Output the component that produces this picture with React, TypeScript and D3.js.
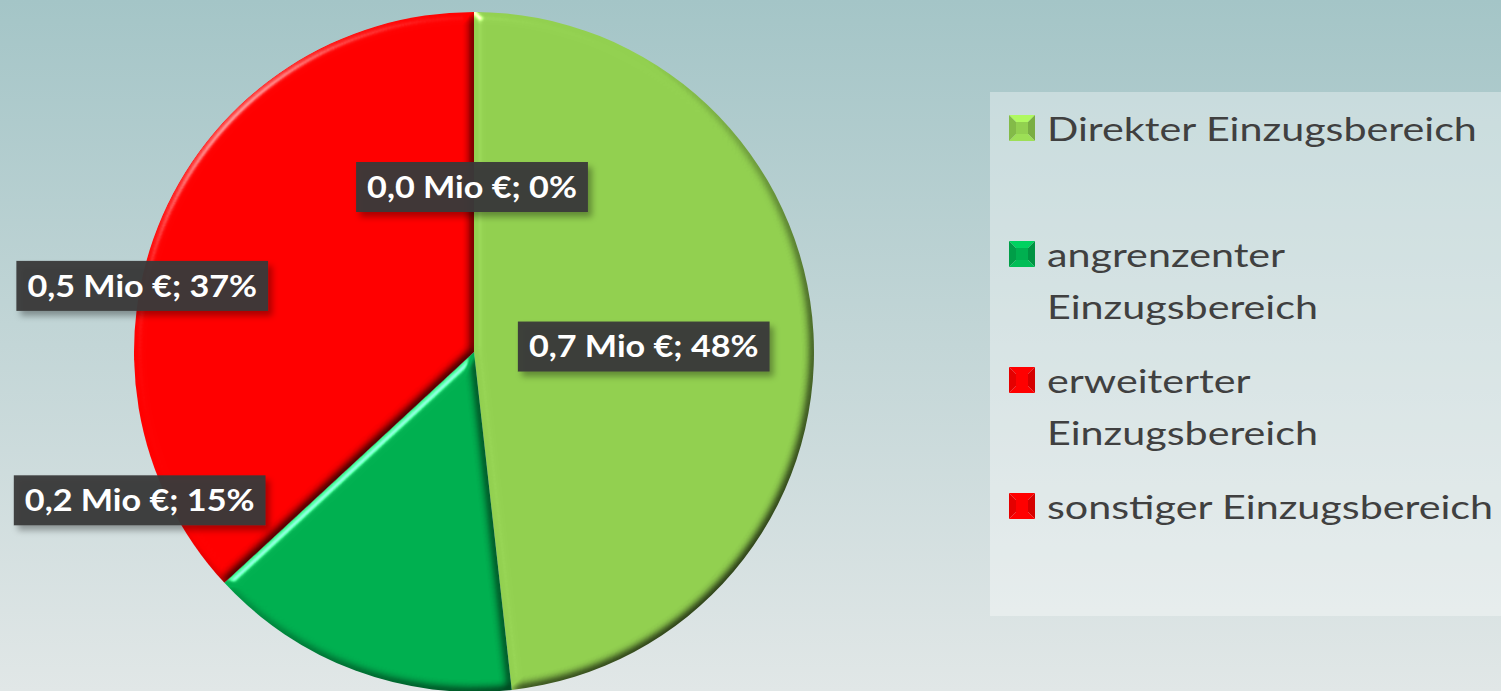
import React, { useEffect, useRef } from 'react';
import * as d3 from 'd3';

const categories = ['Direkter Einzugsbereich', 'angrenzenter Einzugsbereich', 'erweiterter Einzugsbereich', 'sonstiger Einzugsbereich'];
const legendLines = [['Direkter Einzugsbereich'], ['angrenzenter', 'Einzugsbereich'], ['erweiterter', 'Einzugsbereich'], ['sonstiger Einzugsbereich']];
const values = [0.68, 0.21, 0.52, 0.0];
const colors = ['#92d050', '#00b050', '#ff0000', '#ff0000'];

const W = 1501;
const H = 691;

const App = () => {
  const svgRef = useRef(null);

  useEffect(() => {
    document.body.style.margin = '0';
    const svg = d3.select(svgRef.current).attr('width', W).attr('height', H);
    svg.selectAll('*').remove();

    const defs = svg.append('defs');
    const bg = defs.append('linearGradient').attr('id', 'bg').attr('x1', 0).attr('y1', 0).attr('x2', 0).attr('y2', 1);
    bg.append('stop').attr('offset', 0).attr('stop-color', '#a4c5c7');
    bg.append('stop').attr('offset', 0.5).attr('stop-color', '#c3d6d7');
    bg.append('stop').attr('offset', 1).attr('stop-color', '#e1e7e7');

    // bevel for the slices
    const f = defs.append('filter').attr('id', 'bevel').attr('color-interpolation-filters', 'sRGB')
      .attr('x', '-10%').attr('y', '-10%').attr('width', '120%').attr('height', '120%');
    f.append('feGaussianBlur').attr('in', 'SourceAlpha').attr('stdDeviation', 5).attr('result', 'blur');
    const dl = f.append('feDiffuseLighting').attr('in', 'blur').attr('surfaceScale', 3.5)
      .attr('diffuseConstant', 1.414).attr('lighting-color', '#fff').attr('result', 'diff');
    dl.append('feDistantLight').attr('azimuth', 225).attr('elevation', 45);
    const sl = f.append('feSpecularLighting').attr('in', 'blur').attr('surfaceScale', 4)
      .attr('specularConstant', 0.7).attr('specularExponent', 60).attr('lighting-color', '#fff').attr('result', 'spec');
    sl.append('feDistantLight').attr('azimuth', 225).attr('elevation', 40);
    f.append('feComposite').attr('in', 'spec').attr('in2', 'SourceAlpha').attr('operator', 'in').attr('result', 'specOut');
    f.append('feComposite').attr('in', 'SourceGraphic').attr('in2', 'diff').attr('operator', 'arithmetic')
      .attr('k1', 1).attr('k2', 0).attr('k3', 0).attr('k4', 0).attr('result', 'shaded');
    f.append('feComposite').attr('in', 'shaded').attr('in2', 'specOut').attr('operator', 'arithmetic')
      .attr('k1', 0).attr('k2', 1).attr('k3', 0.8).attr('k4', 0);

    const shadow = defs.append('filter').attr('id', 'shadow').attr('x', '-10%').attr('y', '-20%').attr('width', '130%').attr('height', '160%');
    shadow.append('feDropShadow').attr('dx', 4).attr('dy', 5).attr('stdDeviation', 3)
      .attr('flood-color', '#000').attr('flood-opacity', 0.35);

    svg.append('rect').attr('width', W).attr('height', H).attr('fill', 'url(#bg)');

    // pie
    const cx = 474;
    const cy = 352;
    const r = 340;
    const pie = d3.pie().sort(null).value((d) => d);
    const arcs = pie(values);
    const arc = d3.arc().innerRadius(0).outerRadius(r);
    const g = svg.append('g').attr('transform', `translate(${cx},${cy})`);

    g.selectAll('path.slice')
      .data(arcs)
      .enter()
      .append('path')
      .attr('class', 'slice')
      .attr('d', arc)
      .attr('fill', (d, i) => colors[i])
      .attr('filter', 'url(#bevel)');

    // data labels
    const labelNudge = [[0, 4], [-275, -11], [-176, 2], [-2, 5]];
    const fmt = (v) => v.toFixed(1).replace('.', ',');
    const total = d3.sum(values);
    const sx = 1.14;
    arcs.forEach((a, i) => {
      const [x, y] = arc.centroid(a);
      const lx = x + labelNudge[i][0];
      const ly = y + labelNudge[i][1];
      const text = `${fmt(values[i])} Mio €; ${Math.round((values[i] / total) * 100)}%`;
      const lg = g.append('g').attr('transform', `translate(${lx},${ly})`);
      const rect = lg.append('rect').attr('fill', '#3a3a3a').attr('fill-opacity', 0.95).attr('filter', 'url(#shadow)');
      const t = lg.append('text')
        .attr('text-anchor', 'middle')
        .attr('dy', '0.36em')
        .attr('transform', `scale(${sx},1)`)
        .attr('fill', '#fff')
        .style('font-family', 'Lato, sans-serif')
        .style('font-weight', 'bold')
        .style('font-size', '30px')
        .text(text);
      const tw = t.node().getComputedTextLength() * sx;
      rect.attr('x', -tw / 2 - 11).attr('y', -25).attr('width', tw + 22).attr('height', 50);
    });

    // legend
    const lgX = 990;
    const lgY = 92;
    svg.append('rect').attr('x', lgX).attr('y', lgY).attr('width', W - lgX).attr('height', 524)
      .attr('fill', '#fff').attr('fill-opacity', 0.35);
    const itemY = d3.scaleLinear().domain([0, categories.length - 1]).range([141, 519]);
    categories.forEach((c, i) => {
      const baseY = itemY(i);
      const col = d3.color(colors[i]);
      const mx = 1009;
      const my = baseY - 26;
      const s = 26;
      const m = s / 2;
      const tris = [
        [[0, 0], [s, 0], [m, m], col.brighter(0.5)],
        [[s, 0], [s, s], [m, m], col.darker(0.5)],
        [[0, s], [s, s], [m, m], col.brighter(0.2)],
        [[0, 0], [0, s], [m, m], col.darker(0.3)],
      ];
      tris.forEach(([p1, p2, p3, fill]) => {
        svg.append('path')
          .attr('d', `M${mx + p1[0]},${my + p1[1]}L${mx + p2[0]},${my + p2[1]}L${mx + p3[0]},${my + p3[1]}Z`)
          .attr('fill', fill.toString());
      });
      svg.append('rect').attr('x', mx + 7).attr('y', my + 7).attr('width', s - 14).attr('height', s - 14)
        .attr('fill', colors[i]);
      const t = svg.append('text')
        .attr('transform', `translate(1047,${baseY}) scale(1.25,1)`)
        .attr('fill', '#404040')
        .style('font-family', 'Lato, sans-serif')
        .style('font-size', '33px');
      legendLines[i].forEach((line, j) => {
        t.append('tspan').attr('x', 0).attr('y', j * 52).text(line);
      });
    });
  }, []);

  return <svg ref={svgRef}></svg>;
};

export default App;
